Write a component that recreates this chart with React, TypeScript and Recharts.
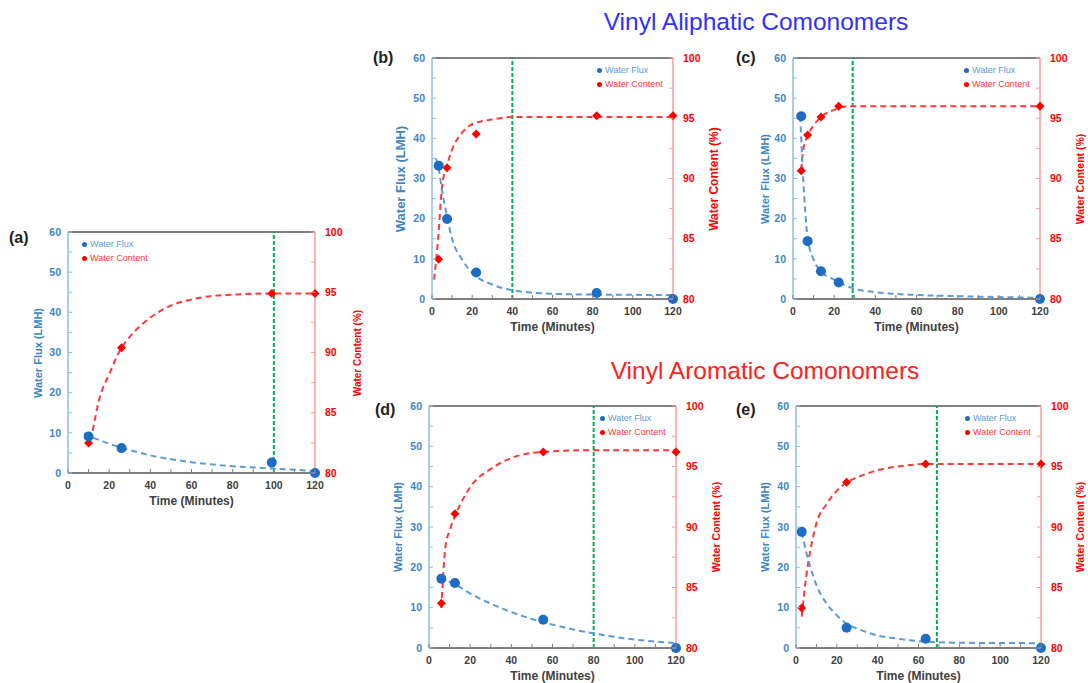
import React from 'react'
import {
  ComposedChart, Line, Scatter, XAxis, YAxis, ReferenceLine,
} from 'recharts'

// ---- panel (a)
const aTime = [10, 26, 99, 120]
const aFlux = [9.1, 6.2, 2.6, 0]
const aContent = [82.5, 90.4, 94.9, 94.9]
const aFluxFitT = [8, 10, 20, 26, 40, 60, 80, 100, 120]
const aFluxFit = [10.0, 9.4, 7.3, 6.3, 4.4, 2.7, 1.7, 1.1, 0.5]
const aContentFitT = [12, 15, 20, 26, 30, 40, 50, 60, 70, 80, 100, 120]
const aContentFit = [83.5, 86.0, 88.2, 90.4, 91.3, 92.9, 93.9, 94.4, 94.7, 94.8, 94.9, 94.9]

// ---- panel (b)
const bTime = [3.3, 7.5, 22, 82, 120]
const bFlux = [33.2, 19.9, 6.6, 1.5, 0]
const bContent = [83.3, 90.9, 93.7, 95.2, 95.2]
const bFluxFitT = [2, 3.3, 5, 7.5, 10, 15, 20, 30, 40, 60, 80, 120]
const bFluxFit = [35, 32.5, 27, 20.5, 15, 9.8, 6.5, 3.6, 2.2, 1.3, 1.1, 1.0]
const bContentFitT = [1, 3, 5, 7.5, 10, 15, 20, 30, 40, 60, 120]
const bContentFit = [81.6, 84.9, 89.3, 91.1, 92.4, 93.8, 94.5, 94.9, 95.1, 95.1, 95.1]

// ---- panel (c)
const cTime = [4, 7.1, 13.6, 22.2, 120]
const cFlux = [45.5, 14.4, 6.9, 4.1, 0]
const cContent = [90.65, 93.6, 95.1, 96.0, 96.0]
const cFluxFitT = [3.5, 5, 6, 7, 10, 13.6, 20, 30, 40, 60, 80, 120]
const cFluxFit = [45.5, 29.7, 21.4, 15.6, 9.8, 6.9, 4.8, 2.5, 1.7, 1.0, 0.7, 0.3]
const cContentFitT = [4, 5, 7, 10, 13.6, 20, 25, 30, 120]
const cContentFit = [90.7, 92.4, 93.5, 94.4, 95.1, 95.7, 95.95, 96.0, 96.0]

// ---- panel (d)
const dTime = [6, 12.6, 55.5, 120]
const dFlux = [17.2, 16.1, 7.0, 0]
const dContent = [83.7, 91.1, 96.2, 96.2]
const dFluxFitT = [5, 12.6, 20, 30, 40, 50, 60, 70, 80, 100, 120]
const dFluxFit = [17.3, 15.8, 13.5, 11.0, 8.9, 7.2, 5.8, 4.6, 3.6, 2.1, 1.2]
const dContentFitT = [6, 8, 10, 12.6, 15, 20, 30, 40, 55, 80, 120]
const dContentFit = [83.3, 88.4, 89.7, 90.9, 91.8, 93.3, 94.8, 95.7, 96.2, 96.35, 96.35]

// ---- panel (e)
const eTime = [2.8, 24.8, 63.5, 120]
const eFlux = [28.8, 5.0, 2.3, 0]
const eContent = [83.3, 93.7, 95.2, 95.2]
const eFluxFitT = [2.8, 5, 8, 10, 15, 20, 25, 30, 40, 50, 60, 80, 120]
const eFluxFit = [28.8, 23.8, 18.5, 15.6, 11.0, 8.1, 6.0, 4.8, 3.1, 2.3, 1.7, 1.3, 1.2]
const eContentFitT = [2.8, 5, 8, 10, 15, 20, 25, 30, 40, 50, 63.5, 120]
const eContentFit = [82.6, 85.9, 88.9, 90.3, 91.9, 93.0, 93.7, 94.1, 94.7, 95.0, 95.2, 95.2]

// equilibrium time markers (green dashed)
const eqTimes = [100, 40, 29, 80, 69]

const xTicks = [0, 10, 20, 30, 40, 50, 60, 70, 80, 90, 100, 110, 120]
const fluxTicks = [0, 5, 10, 15, 20, 25, 30, 35, 40, 45, 50, 55, 60]
const contentTicks = [80, 82.5, 85, 87.5, 90, 92.5, 95, 97.5, 100]

const FONT = 'Arial, "Liberation Sans", sans-serif'
const FLUX = '#1f6cc4'
const FLUX_FIT = '#5b9bd5'
const FLUX_AXIS = '#8fbce6'
const FLUX_TEXT = '#3d85c6'
const WC = '#ff0000'
const WC_FIT = '#ff3838'
const WC_AXIS = '#ff9a9a'
const GRID = '#808080'
const GREEN = '#00b050'

const AX_L = 60 // left axis x inside each chart
const TOP = 10
const TICK_FS = 10.5

const zip = (t: number[], v: number[]) => t.map((x, i) => ({ t: x, v: v[i] }))

// eslint-disable-next-line @typescript-eslint/no-explicit-any
function Dot(props: any) {
  const { cx, cy } = props
  return <circle cx={cx} cy={cy} r={5} fill={FLUX} />
}

// eslint-disable-next-line @typescript-eslint/no-explicit-any
function Diamond(props: any) {
  const { cx, cy } = props
  const s = 4.5
  return <polygon points={`${cx},${cy - s} ${cx + s},${cy} ${cx},${cy + s} ${cx - s},${cy}`} fill={WC} />
}

interface PanelProps {
  tag: string
  left: number
  top: number
  w: number
  h: number
  time: number[]
  flux: number[]
  content: number[]
  fluxFitT: number[]
  fluxFit: number[]
  contentFitT: number[]
  contentFit: number[]
  eq: number
  legendLeft?: boolean
  fluxTitle: { dx: number; size: number }
  wcTitle: { dx: number; size: number }
  tagPos: { x: number; y: number }
}

function Panel(p: PanelProps) {
  const { w, h } = p
  const axR = AX_L + w
  const axB = TOP + h
  const fluxPts = zip(p.time, p.flux)
  const wcPts = zip(p.time, p.content)
  const fluxFit = zip(p.fluxFitT, p.fluxFit)
  const wcFit = zip(p.contentFitT, p.contentFit)

  // eslint-disable-next-line @typescript-eslint/no-explicit-any
  const fluxTick = (t: any) => (
    <g key={`f${t.payload.value}`}>
      <line x1={AX_L} x2={AX_L + 4} y1={t.y} y2={t.y} stroke={FLUX_AXIS} />
      {t.payload.value % 10 === 0 && (
        <text x={AX_L - 7} y={t.y} dy={3.7} textAnchor="end" fontSize={TICK_FS} fontWeight="bold" fill={FLUX_TEXT} fontFamily={FONT}>
          {t.payload.value}
        </text>
      )}
    </g>
  )
  // eslint-disable-next-line @typescript-eslint/no-explicit-any
  const wcTick = (t: any) => (
    <g key={`w${t.payload.value}`}>
      <line x1={axR} x2={axR - 4} y1={t.y} y2={t.y} stroke={WC_AXIS} />
      {t.payload.value % 5 === 0 && (
        <text x={axR + 10} y={t.y} dy={3.7} textAnchor="start" fontSize={TICK_FS} fontWeight="bold" fill={WC} fontFamily={FONT}>
          {t.payload.value}
        </text>
      )}
    </g>
  )
  // eslint-disable-next-line @typescript-eslint/no-explicit-any
  const timeTick = (t: any) => (
    <g key={`t${t.payload.value}`}>
      <line x1={t.x} x2={t.x} y1={axB} y2={axB - 4} stroke={GRID} />
      {t.payload.value % 20 === 0 && (
        <text x={t.x} y={axB + 16} textAnchor="middle" fontSize={TICK_FS} fontWeight="bold" fill="#404040" fontFamily={FONT}>
          {t.payload.value}
        </text>
      )}
    </g>
  )

  const cy = p.top + h / 2
  const legendX = p.legendLeft ? p.left + 14 : p.left + w - 76

  return (
    <>
      <div style={{ position: 'absolute', left: p.left - AX_L, top: p.top - TOP }}>
        <ComposedChart width={w + 120} height={h + 50} margin={{ top: TOP, right: 0, bottom: 0, left: 0 }}>
          <XAxis
            dataKey="t"
            type="number"
            domain={[0, 120]}
            ticks={xTicks}
            interval={0}
            tick={timeTick}
            tickLine={false}
            axisLine={{ stroke: GRID, strokeWidth: 2 }}
            height={40}
          />
          <YAxis
            yAxisId="flux"
            type="number"
            domain={[0, 60]}
            ticks={fluxTicks}
            interval={0}
            tick={fluxTick}
            tickLine={false}
            axisLine={{ stroke: FLUX_AXIS, strokeWidth: 1.5 }}
            width={AX_L}
          />
          <YAxis
            yAxisId="wc"
            orientation="right"
            type="number"
            domain={[80, 100]}
            ticks={contentTicks}
            interval={0}
            tick={wcTick}
            tickLine={false}
            axisLine={{ stroke: WC_AXIS, strokeWidth: 1.5 }}
            width={60}
          />
          <ReferenceLine yAxisId="flux" y={60} stroke={GRID} strokeWidth={2} />
          <ReferenceLine yAxisId="flux" x={p.eq} stroke={GREEN} strokeWidth={2} strokeDasharray="4 2" />
          <Line
            yAxisId="wc"
            data={wcFit}
            dataKey="v"
            type="monotone"
            stroke={WC_FIT}
            strokeWidth={2}
            strokeDasharray="6 4"
            dot={false}
            isAnimationActive={false}
          />
          <Line
            yAxisId="flux"
            data={fluxFit}
            dataKey="v"
            type="monotone"
            stroke={FLUX_FIT}
            strokeWidth={2}
            strokeDasharray="6 4"
            dot={false}
            isAnimationActive={false}
          />
          <Scatter yAxisId="wc" data={wcPts} dataKey="v" shape={<Diamond />} isAnimationActive={false} />
          <Scatter yAxisId="flux" data={fluxPts} dataKey="v" shape={<Dot />} isAnimationActive={false} />
        </ComposedChart>
      </div>

      <div style={{
        position: 'absolute', left: p.tagPos.x, top: p.tagPos.y, transform: 'translateY(-50%)',
        fontSize: 16, fontWeight: 'bold', color: '#222', fontFamily: FONT,
      }}>
        ({p.tag})
      </div>

      <div style={{
        position: 'absolute', left: p.left + p.fluxTitle.dx, top: cy,
        transform: 'translate(-50%, -50%) rotate(-90deg)', whiteSpace: 'nowrap',
        fontSize: p.fluxTitle.size, fontWeight: 'bold', color: FLUX_TEXT, fontFamily: FONT,
      }}>
        Water Flux (LMH)
      </div>
      <div style={{
        position: 'absolute', left: p.left + w + p.wcTitle.dx, top: cy,
        transform: 'translate(-50%, -50%) rotate(-90deg)', whiteSpace: 'nowrap',
        fontSize: p.wcTitle.size, fontWeight: 'bold', color: WC, fontFamily: FONT,
      }}>
        Water Content (%)
      </div>
      <div style={{
        position: 'absolute', left: p.left + w / 2, top: p.top + h + 28,
        transform: 'translate(-50%, -50%)', whiteSpace: 'nowrap',
        fontSize: 12, fontWeight: 'bold', color: '#404040', fontFamily: FONT,
      }}>
        Time (Minutes)
      </div>

      <div style={{ position: 'absolute', left: legendX, top: p.top + 5, fontSize: 9, fontFamily: FONT, lineHeight: '14px' }}>
        <div style={{ color: FLUX_FIT, whiteSpace: 'nowrap' }}>
          <span style={{ display: 'inline-block', width: 5, height: 5, borderRadius: 3, background: FLUX, marginRight: 3, verticalAlign: 'middle' }} />
          Water Flux
        </div>
        <div style={{ color: WC_FIT, whiteSpace: 'nowrap' }}>
          <span style={{ display: 'inline-block', width: 5, height: 5, borderRadius: 3, background: WC, marginRight: 3, verticalAlign: 'middle' }} />
          Water Content
        </div>
      </div>
    </>
  )
}

export default function App() {
  return (
    <div style={{ position: 'absolute', left: 0, top: 0, width: 1088, height: 683, background: '#fff', overflow: 'hidden' }}>
      <div style={{ position: 'absolute', left: 756, top: 22, transform: 'translate(-50%, -50%)', whiteSpace: 'nowrap', fontSize: 24.5, color: '#3030ff', fontFamily: FONT }}>
        Vinyl Aliphatic Comonomers
      </div>
      <div style={{ position: 'absolute', left: 765, top: 371, transform: 'translate(-50%, -50%)', whiteSpace: 'nowrap', fontSize: 24.5, color: '#ff2020', fontFamily: FONT }}>
        Vinyl Aromatic Comonomers
      </div>

      <Panel tag="a" left={68} top={232} w={247} h={241}
        time={aTime} flux={aFlux} content={aContent}
        fluxFitT={aFluxFitT} fluxFit={aFluxFit} contentFitT={aContentFitT} contentFit={aContentFit}
        eq={eqTimes[0]} legendLeft
        fluxTitle={{ dx: -30, size: 11 }} wcTitle={{ dx: 42, size: 10 }} tagPos={{ x: 9, y: 238 }} />
      <Panel tag="b" left={432} top={58} w={241} h={241}
        time={bTime} flux={bFlux} content={bContent}
        fluxFitT={bFluxFitT} fluxFit={bFluxFit} contentFitT={bContentFitT} contentFit={bContentFit}
        eq={eqTimes[1]}
        fluxTitle={{ dx: -32, size: 13 }} wcTitle={{ dx: 41, size: 12 }} tagPos={{ x: 373, y: 58 }} />
      <Panel tag="c" left={793} top={58} w={247} h={241}
        time={cTime} flux={cFlux} content={cContent}
        fluxFitT={cFluxFitT} fluxFit={cFluxFit} contentFitT={cContentFitT} contentFit={cContentFit}
        eq={eqTimes[2]}
        fluxTitle={{ dx: -28, size: 11 }} wcTitle={{ dx: 40, size: 10.5 }} tagPos={{ x: 736, y: 58 }} />
      <Panel tag="d" left={429} top={406} w={247} h={242}
        time={dTime} flux={dFlux} content={dContent}
        fluxFitT={dFluxFitT} fluxFit={dFluxFit} contentFitT={dContentFitT} contentFit={dContentFit}
        eq={eqTimes[3]}
        fluxTitle={{ dx: -31, size: 11 }} wcTitle={{ dx: 40, size: 10.5 }} tagPos={{ x: 375, y: 410 }} />
      <Panel tag="e" left={796} top={406} w={245} h={242}
        time={eTime} flux={eFlux} content={eContent}
        fluxFitT={eFluxFitT} fluxFit={eFluxFit} contentFitT={eContentFitT} contentFit={eContentFit}
        eq={eqTimes[4]}
        fluxTitle={{ dx: -31, size: 11 }} wcTitle={{ dx: 39, size: 10.5 }} tagPos={{ x: 736, y: 410 }} />
    </div>
  )
}
